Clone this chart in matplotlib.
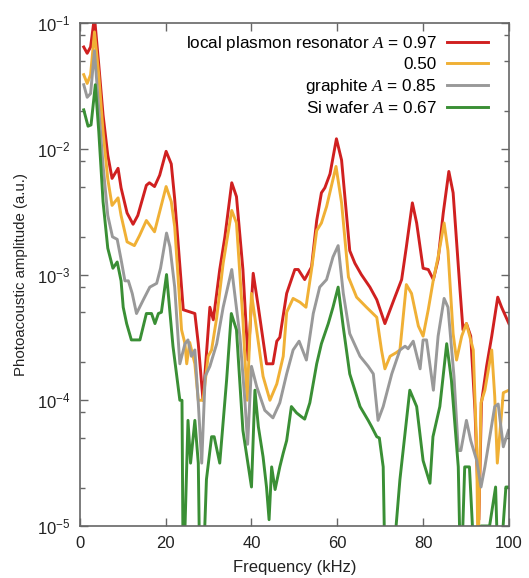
import numpy as np
import matplotlib
matplotlib.use('Agg')
import matplotlib.pyplot as plt
from matplotlib.ticker import LogLocator, NullFormatter

plt.rcParams['font.family'] = ['Liberation Sans', 'DejaVu Sans']
plt.rcParams['mathtext.fontset'] = 'custom'
plt.rcParams['mathtext.rm'] = 'Liberation Sans'
plt.rcParams['mathtext.it'] = 'Liberation Serif:italic'

# data: frequency (kHz) and log10 of amplitude (a.u.)
f_red = [0.9, 1.7, 2.5, 3.4, 4.4, 5.4, 6.5, 7.5, 8.9, 9.6, 11, 12.4, 13.5, 15.5, 16.2, 17.4,
         18.6, 20.1, 21.3, 22.1, 24.1, 26.8, 27.6, 28.7, 30.3, 31.1, 32.6, 33.8, 35.4, 36.5,
         38, 39.2, 40.4, 41.6, 43.5, 45, 45.9, 46.6, 48.2, 50.1, 50.9, 52.4, 54, 55.2, 56.3,
         57.1, 58.3, 59.8, 61, 62.9, 64.1, 65.6, 67.6, 69.2, 71.1, 73.2, 75, 76.1, 77.5,
         78.5, 80, 81.2, 82.4, 83.5, 84.7, 86, 87, 88.6, 89.3, 90.1, 91.1, 92.1, 93.0,
         93.6, 94.8, 96, 97.4, 98.3, 100]
lg_red = [-1.19, -1.24, -1.19, -0.95, -1.33, -1.73, -2.05, -2.235, -2.155, -2.31, -2.51, -2.60,
          -2.53, -2.29, -2.27, -2.30, -2.21, -2.02, -2.12, -2.40, -3.28, -3.31, -3.55, -4.0,
          -3.26, -3.36, -2.96, -2.70, -2.27, -2.38, -2.96, -3.68, -2.99, -3.26, -3.71, -3.71,
          -3.53, -3.50, -3.15, -2.96, -2.96, -3.04, -2.94, -2.57, -2.35, -2.31, -2.20, -1.92,
          -2.09, -2.81, -2.91, -3.0, -3.10, -3.20, -3.39, -3.20, -3.04, -2.78, -2.43, -2.59,
          -2.95, -2.96, -3.04, -2.88, -2.51, -2.18, -2.35, -3.12, -3.44, -3.39, -3.49, -4.08,
          -4.95, -4.02, -3.73, -3.49, -3.18, -3.26, -3.39]

f_org = [0.9, 1.7, 2.5, 3.4, 4.4, 5.4, 6.5, 7.5, 8.9, 9.6, 11, 12.7, 13.9, 15.5, 17.4, 20.1,
         21.3, 22.1, 23.7, 24.5, 24.9, 25.6, 26.8, 27.6, 28.7, 29.9, 30.7, 31.9, 33.4, 35.4,
         36.5, 38, 39, 40, 41.2, 42.7, 44.3, 45.9, 47.4, 48.2, 49.7, 51.3, 52.7, 54, 55.2,
         56.3, 57.5, 59.7, 61, 62.6, 64.5, 66.8, 69.2, 70.3, 71.1, 72.3, 73.8, 74.6, 76.1,
         77.3, 78.9, 80, 81.2, 82.4, 83.5, 84.9, 85.8, 87, 87.8, 89, 90.1, 91.7, 92.5, 92.8,
         93.5, 94.4, 96, 96.7, 97.3, 98.7, 100]
lg_org = [-1.41, -1.48, -1.41, -1.07, -1.41, -1.86, -2.24, -2.45, -2.39, -2.53, -2.74, -2.77,
          -2.69, -2.57, -2.66, -2.30, -2.42, -2.62, -3.44, -3.55, -3.71, -3.54, -3.71, -4.0,
          -4.0, -3.65, -3.60, -3.34, -2.91, -2.49, -2.59, -3.36, -4.0, -3.15, -3.44, -3.81,
          -4.0, -3.87, -3.65, -3.30, -3.19, -3.22, -3.26, -2.96, -2.65, -2.59, -2.46, -2.14,
          -2.43, -3.02, -3.18, -3.26, -3.34, -3.60, -3.75, -3.65, -3.62, -3.60, -3.08, -3.15,
          -3.41, -3.49, -3.28, -3.04, -2.86, -2.59, -2.81, -3.47, -3.68, -3.49, -3.39, -3.60,
          -4.40, -5.3, -4.02, -3.92, -3.60, -3.97, -4.50, -3.94, -3.92]

f_gra = [0.9, 1.7, 2.5, 3.4, 4.4, 5.4, 6.5, 7.6, 8.7, 9.6, 10.5, 11.3, 12.2, 13.2, 14.8, 16.3,
         17.9, 18.8, 20.2, 21, 22.1, 23.3, 24.5, 25.2, 26, 26.8, 27.6, 28.4, 29.2, 30.3, 31.9,
         33.4, 35.4, 37.3, 38.5, 39.1, 40, 41.2, 43.1, 45, 46.6, 48.2, 49.7, 51.1, 52.8, 54.4,
         55.9, 57.5, 59, 60.2, 61.4, 62.9, 65.3, 67.2, 68.4, 69.5, 70.7, 72.7, 74.6, 75.8,
         76.5, 77.7, 79.3, 80, 80.8, 82.4, 83.5, 84.9, 85.8, 87.2, 88.2, 88.8, 90.1, 91.1,
         92.5, 93.5, 94.4, 95.4, 96.7, 97.5, 98.7, 99.9]
lg_gra = [-1.49, -1.59, -1.56, -1.22, -1.68, -2.13, -2.53, -2.70, -2.72, -2.88, -3.05, -3.05,
          -3.15, -3.31, -3.20, -3.10, -3.07, -2.95, -2.67, -2.78, -3.10, -3.71, -3.55, -3.52,
          -3.65, -3.60, -4.02, -4.50, -3.81, -3.73, -3.55, -3.26, -2.96, -3.49, -4.02, -4.35,
          -3.73, -3.89, -4.08, -4.14, -4.02, -3.79, -3.60, -3.53, -3.68, -3.31, -3.10, -3.04,
          -2.86, -2.77, -3.15, -3.47, -3.65, -3.73, -3.79, -4.16, -4.05, -3.79, -3.60, -3.57,
          -3.59, -3.53, -3.75, -3.52, -3.52, -3.92, -3.49, -3.19, -3.26, -3.81, -4.40, -4.40,
          -4.16, -4.32, -4.48, -4.69, -4.53, -4.32, -4.05, -4.03, -4.37, -4.24]

f_grn = [0.9, 1.9, 2.6, 3.6, 4.4, 5.4, 6.5, 7.7, 8.7, 9.6, 10.1, 10.9, 12, 14, 15.5, 16.7, 17.5,
         18.3, 19, 20.2, 21.7, 23.3, 23.8, 24.1, 25.2, 25.8, 26.8, 27.6, 28.0, 28.6, 29.5, 30.7,
         31.3, 32.6, 34.2, 35.3, 36.5, 38, 38.8, 40, 40.8, 41.6, 42.7, 43.5, 44.1, 44.7, 45.5,
         46.6, 47.4, 48.2, 49.3, 50.5, 51.6, 52.4, 53.6, 55.2, 56.3, 57.9, 59, 60.2, 61.4,
         62.9, 65.3, 67.2, 68, 69.2, 69.8, 70.7, 71.2, 72.5, 74.6, 76.9, 78.5, 80, 81.6, 82.3,
         83.9, 85.5, 86.6, 88.2, 88.8, 89.7, 90.8, 91.5, 92, 93.5, 95.5, 96.9, 97.6, 99.3, 100]
lg_grn = [-1.69, -1.82, -1.81, -1.49, -1.86, -2.42, -2.79, -2.95, -2.90, -3.05, -3.26, -3.39,
          -3.52, -3.52, -3.31, -3.31, -3.39, -3.31, -3.30, -3.0, -3.57, -4.0, -4.0, -5.5,
          -4.16, -4.50, -4.16, -4.50, -5.5, -5.5, -4.63, -4.29, -4.29, -4.50, -3.84, -3.31,
          -3.44, -4.24, -4.42, -4.69, -3.92, -4.21, -4.45, -4.69, -4.95, -4.53, -4.71, -4.53,
          -4.42, -4.32, -4.05, -4.10, -4.13, -4.15, -4.02, -3.71, -3.55, -3.39, -3.26, -3.10,
          -3.42, -3.79, -4.05, -4.16, -4.21, -4.29, -4.30, -4.53, -5.5, -5.5, -4.63, -3.92,
          -4.05, -4.48, -4.66, -4.29, -4.05, -3.55, -3.84, -4.53, -5.5, -4.53, -4.53, -5.0,
          -5.5, -5.0, -5.0, -4.69, -5.5, -4.69, -4.69]

labels = ['local plasmon resonator $\\mathit{A}$ = 0.97', '0.50',
          'graphite $\\mathit{A}$ = 0.85', 'Si wafer $\\mathit{A}$ = 0.67']
colors = ['#d02020', '#f0b035', '#999999', '#3a8f35']

fig = plt.figure(figsize=(5.29, 5.78), dpi=100)
ax = fig.add_axes([0.151, 0.090, 0.811, 0.870])

series = [(f_red, lg_red), (f_org, lg_org), (f_gra, lg_gra), (f_grn, lg_grn)]
for (f, lg), c, lab in zip(series, colors, labels):
    ax.plot(f, 10.0 ** np.array(lg), color=c, lw=2.1, label=lab)

ax.set_yscale('log')
ax.set_xlim(0, 100)
ax.set_ylim(1e-5, 1e-1)
ax.set_xticks([0, 20, 40, 60, 80, 100])
ax.yaxis.set_major_locator(LogLocator(base=10, numticks=10))
ax.yaxis.set_minor_locator(LogLocator(base=10, subs=[2, 5, 8], numticks=10))
ax.yaxis.set_minor_formatter(NullFormatter())

for s in ax.spines.values():
    s.set_color('#666666')
    s.set_linewidth(1.2)
ax.tick_params(which='both', direction='in', top=True, right=True, color='#666666',
               labelsize=12, labelcolor='#222222')
ax.tick_params(which='major', length=6, width=1.0, pad=7)
ax.tick_params(which='minor', length=3.5, width=1.0)

ax.set_xlabel('Frequency (kHz)', fontsize=12, color='#222222', labelpad=7)
ax.set_ylabel('Photoacoustic amplitude (a.u.)', fontsize=10.8, color='#222222', labelpad=6)

ax.legend(loc='upper right', bbox_to_anchor=(0.951, 0.978), frameon=False, markerfirst=False,
          fontsize=12.3, handlelength=2.4, handletextpad=0.6, labelspacing=0.25,
          borderpad=0, borderaxespad=0, alignment='right')

fig.savefig('out.png', dpi=100)
